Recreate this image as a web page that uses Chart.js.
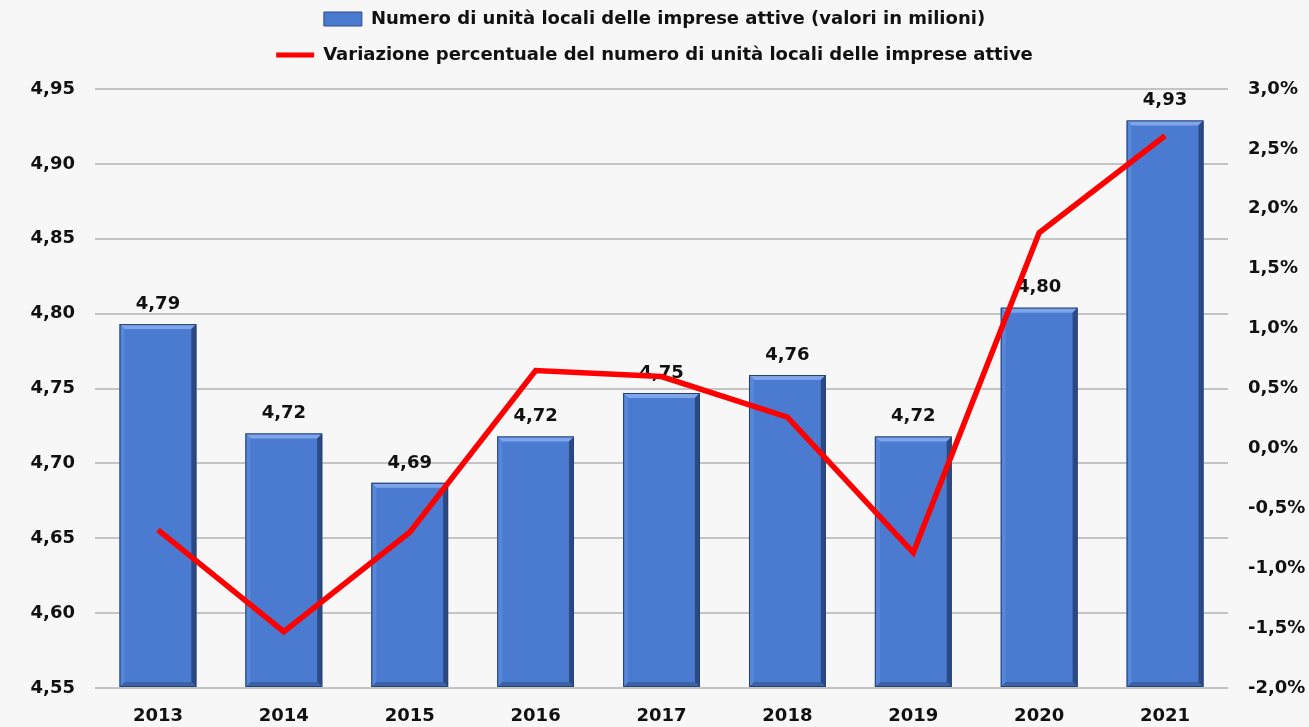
<!DOCTYPE html>
<html>
<head>
<meta charset="utf-8">
<script src="https://cdn.jsdelivr.net/npm/chart.js@4.4.1/dist/chart.umd.min.js"></script>
<style>
    html, body { margin: 0; padding: 0; background: #f7f7f7; }
    #wrap { width: 1309px; height: 727px; }
</style>
</head>
<body>
<div id="wrap"><canvas id="unitaChart"></canvas></div>
<script>
// Data
const years = ['2013', '2014', '2015', '2016', '2017', '2018', '2019', '2020', '2021'];
const unitaLocali = [4.793, 4.720, 4.687, 4.718, 4.747, 4.759, 4.718, 4.804, 4.929];
const variazionePct = [-0.68, -1.53, -0.70, 0.65, 0.60, 0.26, -0.87, 1.80, 2.61];
const leftTicks = [4.55, 4.60, 4.65, 4.70, 4.75, 4.80, 4.85, 4.90, 4.95];
const rightTicks = [-2.0, -1.5, -1.0, -0.5, 0.0, 0.5, 1.0, 1.5, 2.0, 2.5, 3.0];

const tickFont = { family: 'DejaVu Sans', size: 18, weight: 'bold' };

// Format number with Italian decimal comma
function itNum(v, d) {
    return v.toFixed(d).replace('.', ',');
}

// Extra room under the legend
const legendGap = {
    id: 'legendGap',
    beforeInit(chart) {
        const fit = chart.legend.fit;
        chart.legend.fit = function () {
            fit.bind(chart.legend)();
            this.height += 15;
        };
    }
};

// Bevel effect on the bars + value labels above them
const barDecor = {
    id: 'barDecor',
    afterDatasetDraw(chart, args) {
        if (args.index !== 0) return;
        const ctx = chart.ctx;
        const meta = args.meta;
        ctx.save();
        meta.data.forEach((bar, i) => {
            const left = bar.x - bar.width / 2;
            const right = bar.x + bar.width / 2;
            const top = bar.y;
            const bottom = Math.min(bar.base, chart.chartArea.bottom);
            const b = 5;
            // top highlight
            ctx.fillStyle = '#7ea4ea';
            ctx.beginPath();
            ctx.moveTo(left, top);
            ctx.lineTo(right, top);
            ctx.lineTo(right - b, top + b);
            ctx.lineTo(left + b, top + b);
            ctx.closePath();
            ctx.fill();
            // right shadow
            ctx.fillStyle = '#2b4a85';
            ctx.beginPath();
            ctx.moveTo(right, top);
            ctx.lineTo(right, bottom);
            ctx.lineTo(right - b, bottom - b);
            ctx.lineTo(right - b, top + b);
            ctx.closePath();
            ctx.fill();
            // bottom shadow
            ctx.fillStyle = '#3a62a6';
            ctx.beginPath();
            ctx.moveTo(left, bottom);
            ctx.lineTo(right, bottom);
            ctx.lineTo(right - b, bottom - b);
            ctx.lineTo(left + b, bottom - b);
            ctx.closePath();
            ctx.fill();
            // left light edge
            ctx.fillStyle = '#5787d8';
            ctx.beginPath();
            ctx.moveTo(left, top);
            ctx.lineTo(left + b, top + b);
            ctx.lineTo(left + b, bottom - b);
            ctx.lineTo(left, bottom);
            ctx.closePath();
            ctx.fill();
            ctx.strokeStyle = '#27416f';
            ctx.lineWidth = 1;
            ctx.strokeRect(left + 0.5, top + 0.5, bar.width - 1, bottom - top - 1);

            // value label
            ctx.fillStyle = '#111';
            ctx.font = 'bold 18px "DejaVu Sans"';
            ctx.textAlign = 'center';
            ctx.textBaseline = 'bottom';
            ctx.fillText(itNum(unitaLocali[i], 2), bar.x, top - 11);
        });
        ctx.restore();
    }
};

new Chart(document.getElementById('unitaChart'), {
    type: 'bar',
    data: {
        labels: years,
        datasets: [
            {
                type: 'bar',
                label: 'Numero di unità locali delle imprese attive (valori in milioni)',
                data: unitaLocali,
                base: 4.55,
                backgroundColor: '#4a7bd0',
                borderWidth: 0,
                yAxisID: 'y',
                barPercentage: 0.61,
                categoryPercentage: 1,
                order: 2
            },
            {
                type: 'line',
                label: 'Variazione percentuale del numero di unità locali delle imprese attive',
                data: variazionePct,
                borderColor: '#ff0000',
                backgroundColor: '#ff0000',
                borderWidth: 5.5,
                pointRadius: 0,
                tension: 0,
                yAxisID: 'y2',
                order: 1
            }
        ]
    },
    options: {
        responsive: true,
        maintainAspectRatio: false,
        animation: false,
        layout: { padding: { left: 0, right: 0, top: -8, bottom: 0 } },
        plugins: {
            tooltip: { enabled: false },
            legend: {
                position: 'top',
                labels: {
                    color: '#111',
                    font: { family: 'DejaVu Sans', size: 18, weight: 'bold' },
                    usePointStyle: true,
                    pointStyleWidth: 38,
                    boxHeight: 14,
                    padding: 18,
                    generateLabels(chart) {
                        return chart.data.datasets.map((ds, i) => ({
                            text: ds.label,
                            datasetIndex: i,
                            fillStyle: i === 0 ? '#4a7bd0' : '#ff0000',
                            strokeStyle: i === 0 ? '#2b4a85' : '#ff0000',
                            lineWidth: i === 0 ? 1 : 5,
                            pointStyle: i === 0 ? 'rect' : 'line',
                            fontColor: '#111'
                        }));
                    }
                }
            }
        },
        scales: {
            x: {
                afterFit(axis) {
                    axis.height = 39;
                },
                grid: { display: false, drawTicks: false },
                border: { display: false },
                ticks: { color: '#111', font: tickFont, padding: 18 }
            },
            y: {
                position: 'left',
                min: 4.55,
                max: 4.95,
                afterBuildTicks(axis) {
                    axis.ticks = leftTicks.map(v => ({ value: v }));
                },
                afterFit(axis) {
                    axis.width = 95;
                },
                grid: { color: '#c4c4c4', lineWidth: 2, drawTicks: false },
                border: { display: false },
                ticks: {
                    color: '#111',
                    font: tickFont,
                    padding: 20,
                    callback: v => itNum(v, 2)
                }
            },
            y2: {
                position: 'right',
                min: -2,
                max: 3,
                afterBuildTicks(axis) {
                    axis.ticks = rightTicks.map(v => ({ value: v }));
                },
                afterFit(axis) {
                    axis.width = 81;
                },
                grid: { display: false, drawTicks: false },
                border: { display: false },
                ticks: {
                    color: '#111',
                    font: tickFont,
                    padding: 20,
                    callback: v => itNum(v, 1) + '%'
                }
            }
        }
    },
    plugins: [legendGap, barDecor]
});
</script>
</body>
</html>
